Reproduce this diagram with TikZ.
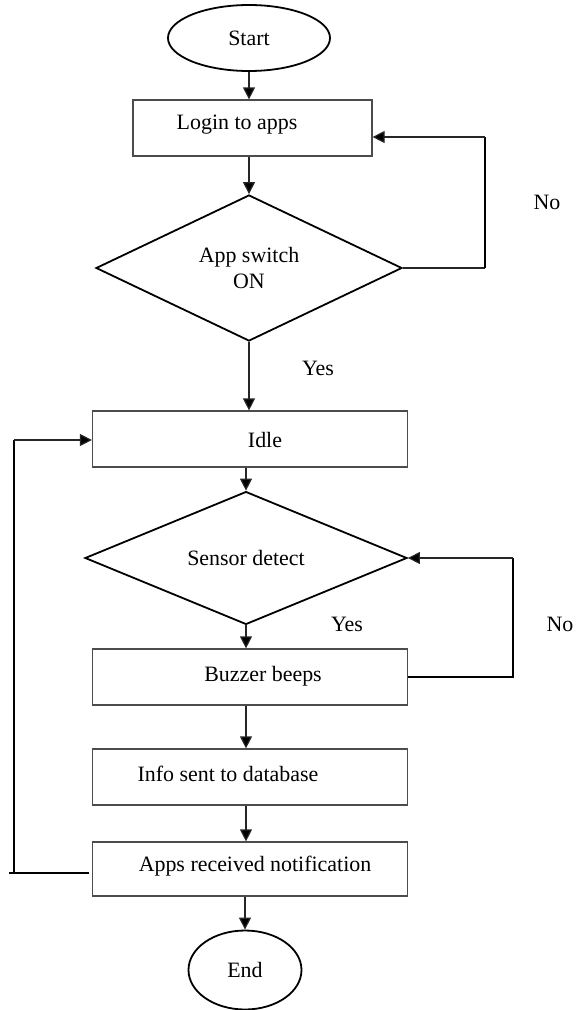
\documentclass[tikz,border=0pt]{standalone}
\usepackage{fontspec}
\setmainfont{Liberation Serif}
\usetikzlibrary{shapes.geometric,arrows.meta}

\tikzset{
  flowbox/.style={rectangle, draw=black!70, line width=1.2bp, inner sep=0pt},
  decision/.style={diamond, draw=black, line width=1.8bp, inner sep=0pt,
    font=\fontsize{22}{27}\selectfont, align=center},
  terminal/.style={ellipse, draw=black, line width=1.8bp, inner sep=0pt,
    font=\fontsize{22}{27}\selectfont},
  flowtext/.style={inner sep=0pt, font=\fontsize{22}{27}\selectfont},
  flowline/.style={line width=1.2bp, draw=black!85},
  flowarrow/.style={flowline, -{Triangle[length=12bp,width=12bp,fill=black]}},
  backline/.style={line width=2bp, draw=black},
}

\begin{document}
\begin{tikzpicture}[x=1bp, y=-1bp]
  \useasboundingbox (0,0) rectangle (581,1010);

  % Drawing terminal Start
  \node [terminal, minimum width=162bp, minimum height=66bp] (start) at (249,38) {Start};

  % Drawing box Login
  \node [flowbox, minimum width=239bp, minimum height=56bp] (login) at (252.5,128) {};
  \node [flowtext] (logintext) at (237,125) {Login to apps};

  % Drawing decision App switch
  \node [decision, minimum width=306bp, minimum height=146bp] (appsw) at (249,268) {App switch\\ON};

  % Drawing box Idle
  \node [flowbox, minimum width=315bp, minimum height=56bp] (idle) at (250,439) {};
  \node [flowtext] (idletext) at (265,440) {Idle};

  % Drawing decision Sensor detect
  \node [decision, minimum width=322bp, minimum height=96bp] (sensor) at (246,558) {Sensor detect};

  % Drawing box Buzzer
  \node [flowbox, minimum width=315bp, minimum height=56bp] (buzzer) at (250,677) {};
  \node [flowtext] (buzzertext) at (263,676) {Buzzer beeps};

  % Drawing box Info
  \node [flowbox, minimum width=315bp, minimum height=56bp] (info) at (250,777) {};
  \node [flowtext] (infotext) at (228,774) {Info sent to database};

  % Drawing box Notification
  \node [flowbox, minimum width=315bp, minimum height=54bp] (notif) at (250,869) {};
  \node [flowtext] (notiftext) at (255,866) {Apps received notification};

  % Drawing terminal End
  \node [terminal, minimum width=113bp, minimum height=79bp] (end) at (245,970) {End};

  % Marking labels Yes / No
  \node [flowtext] (no1) at (547,202) {No};
  \node [flowtext] (yes1) at (318,368) {Yes};
  \node [flowtext] (yes2) at (347,624) {Yes};
  \node [flowtext] (no2) at (560,624) {No};

  % Drawing main flow
  \draw [flowarrow] (start.south) -- (start.south |- login.north);
  \draw [flowarrow] (login.south -| appsw.north) -- (appsw.north);
  \draw [flowarrow] (appsw.south) -- (appsw.south |- idle.north);
  \draw [flowarrow] (idle.south -| sensor.north) -- (sensor.north);
  \draw [flowarrow] (sensor.south) -- (sensor.south |- buzzer.north);
  \draw [flowarrow] (buzzer.south -| sensor.south) -- (sensor.south |- info.north);
  \draw [flowarrow] (info.south -| sensor.south) -- (sensor.south |- notif.north);
  \draw [flowarrow] (notif.south -| end.north) -- (end.north);

  % Drawing loop No of App switch
  \coordinate (noloopA) at (485,137);
  \draw [flowline] (appsw.east) -- (appsw.east -| noloopA);
  \draw [backline] (appsw.east -| noloopA) -- (noloopA);
  \draw [flowarrow] (noloopA) -- (noloopA -| login.east);

  % Drawing loop No of Sensor detect
  \coordinate (noloopB) at (513,558);
  \draw [backline] (buzzer.east) -| (noloopB);
  \draw [flowarrow] (noloopB) -- (sensor.east);

  % Drawing loop back to Idle
  \coordinate (backtop) at (14,440);
  \coordinate (backbot) at (14,873);
  \draw [backline] ([xshift=-3bp]notif.west |- backbot) -- ([xshift=-5bp]backbot);
  \draw [backline] (backbot) -- (backtop);
  \draw [flowarrow] (backtop) -- (backtop -| idle.west);
\end{tikzpicture}
\end{document}
